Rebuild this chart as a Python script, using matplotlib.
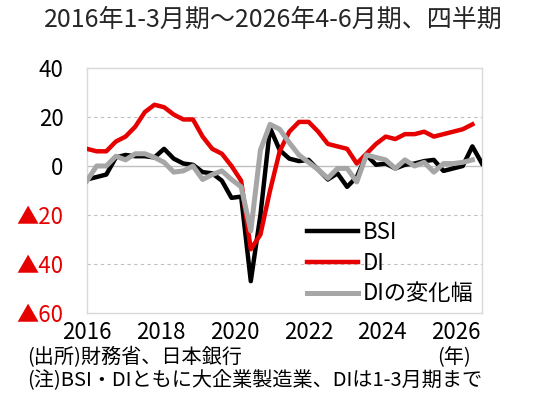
import matplotlib
matplotlib.use("Agg")
import matplotlib.pyplot as plt

plt.rcParams['font.family'] = ['Noto Sans CJK JP', 'DejaVu Sans']

# quarterly, 2016 Q1 ... 2026 Q2
bsi = [-5.5, -4.5, -3.5, 3.5, 4.5, 4, 4, 3.5, 7, 3, 1, 0.5,
       -2.5, -3, -6, -13, -12.5, -47, -20, 15.5, 6.5, 3, 2, 2.5,
       -1.5, -5.5, -3, -8.5, -4.5, 4.5, 0.5, 1, -1, 0.5, 1, 2,
       2.5, -2, -1, 0, 8, 1]
di = [7, 6, 6, 10, 12, 16, 22, 25, 24, 21, 19, 19,
      12, 7, 5, 0, -6, -34, -28, -10, 6, 14, 18, 18,
      14, 9, 8, 7, 1, 5, 9, 12, 11, 13, 13, 14,
      12, 13, 14, 15, 17]
di_chg = [-6, 0, 0, 4, 2.5, 5, 5, 3.5, 1.5, -2.5, -2, 0,
          -5.5, -3.5, -2, -5.5, -8.5, -26.5, 6.5, 17, 15, 9.5, 4.5, 1.5,
          -1.5, -5, -1, -1, -6.5, 4.5, 3.5, 2.5, -1, 2.5, 0, 1.5,
          -2.5, 1, 1, 1.5, 2.5]

year_labels = ['2016', '2018', '2020', '2022', '2024', '2026']
year_pos = [0, 7.66, 15.32, 22.98, 30.64, 38.3]
y_ticks = [-60, -40, -20, 0, 20, 40]
y_labels = ['▲60', '▲40', '▲20', '0', '20', '40']

red = '#e60000'
gray = '#a6a6a6'

fig = plt.figure(figsize=(5.4, 4.08), dpi=100)
ax = fig.add_axes([87/540, 1-313/408, (482-87)/540, (313-68)/408])

# grid: solid zero line, dashed others
for v in [20, -20, -40]:
    ax.axhline(v, color='#bfbfbf', lw=0.8, ls=(0, (3, 3)), zorder=1)
ax.axhline(0, color='#bfbfbf', lw=1.0, zorder=1)

ax.plot(range(len(bsi)), bsi, color='black', lw=3.2, label='BSI', zorder=3)
ax.plot(range(len(di)), di, color=red, lw=3.2, label='DI', zorder=3)
ax.plot(range(len(di_chg)), di_chg, color=gray, lw=3.6, label='DIの変化幅', zorder=3)

ax.set_xlim(0, len(bsi) - 1)
ax.set_ylim(-60, 40)
ax.set_xticks(year_pos)
ax.set_xticklabels(year_labels, fontsize=16)
ax.set_yticks(y_ticks)
ax.set_yticklabels(y_labels, fontsize=16)
for lab, v in zip(ax.get_yticklabels(), y_ticks):
    if v < 0:
        lab.set_color(red)
ax.tick_params(axis='both', length=0)
ax.tick_params(axis='y', pad=17)
ax.tick_params(axis='x', pad=6)
for s in ax.spines.values():
    s.set_color('#d9d9d9')
    s.set_linewidth(1)

ax.legend(loc='center left', bbox_to_anchor=(0.557, 0.204), frameon=False,
          fontsize=16, handlelength=2.3, handletextpad=0.2, labelspacing=0.35,
          borderpad=0, borderaxespad=0)

fig.text(0.506, 1-20/408, '2016年1-3月期～2026年4-6月期、四半期',
         ha='center', va='center', fontsize=18, color='#262626')
fig.text(27/540, 1-358/408, '(出所)財務省、日本銀行', ha='left', va='center', fontsize=14.5)
fig.text(454/540, 1-358/408, '(年)', ha='center', va='center', fontsize=14.5)
fig.text(27/540, 1-380/408, '(注)BSI・DIともに大企業製造業、DIは1-3月期まで',
         ha='left', va='center', fontsize=14.5)

fig.savefig('out.png', dpi=100)
